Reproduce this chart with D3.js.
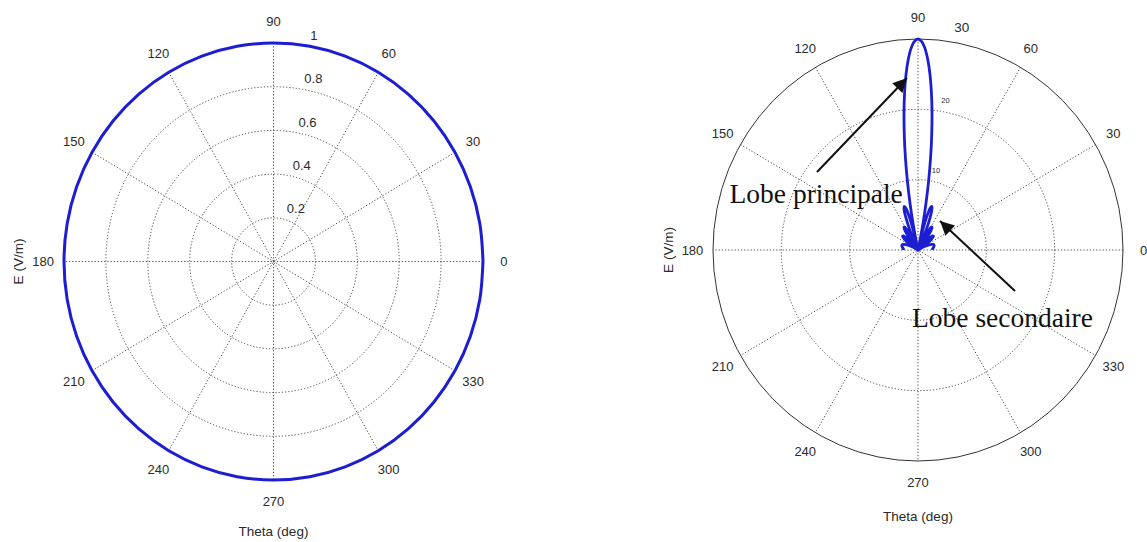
<!DOCTYPE html>
<html>
<head>
<meta charset="utf-8">
<script src="https://cdn.jsdelivr.net/npm/d3@7"></script>
<style>
  html, body { margin: 0; padding: 0; background: #ffffff; }
  svg { display: block; }
</style>
</head>
<body>
<svg id="fig" width="1147" height="542"></svg>
<script>
// Angular grid directions (degrees, counter-clockwise from east)
const angleTicks = [0, 30, 60, 90, 120, 150, 180, 210, 240, 270, 300, 330];

// Left panel: isotropic source, E (V/m) vs theta
const leftRings = [0.2, 0.4, 0.6, 0.8, 1];
const leftRingLabels = ["0.2", "0.4", "0.6", "0.8", "1"];
const leftTheta = [0, 10, 20, 30, 40, 50, 60, 70, 80, 90, 100, 110, 120, 130, 140, 150, 160, 170, 180,
                   190, 200, 210, 220, 230, 240, 250, 260, 270, 280, 290, 300, 310, 320, 330, 340, 350, 360];
const leftE = [1, 1, 1, 1, 1, 1, 1, 1, 1, 1, 1, 1, 1, 1, 1, 1, 1, 1, 1,
               1, 1, 1, 1, 1, 1, 1, 1, 1, 1, 1, 1, 1, 1, 1, 1, 1, 1];

// Right panel: array pattern with main lobe at 90 deg and side lobes
const rightRings = [10, 20, 30];
const rightRingLabels = ["10", "20", "30"];
const rightTheta = [
  0, 2, 4, 6, 8, 10, 12, 14, 16, 18, 20, 22, 24, 26, 28, 30, 30.7, 32, 34, 36, 38, 40,
  41, 42, 43, 44, 45, 46, 47, 48, 49, 49.8, 51, 52, 53, 54, 55, 56, 57, 58, 59, 60,
  61, 62, 63, 64, 64.5, 65, 66, 67, 68, 69, 70, 71, 72, 73, 74, 75, 76, 77, 77.6, 78,
  79, 80, 81, 82, 83, 84, 85, 86, 87, 88, 89, 90,
  91, 92, 93, 94, 95, 96, 97, 98, 99, 100, 101, 102, 102.4, 103, 104, 105, 106, 107,
  108, 109, 110, 111, 112, 113, 114, 115, 115.5, 116, 117, 118, 119, 120, 121, 122,
  123, 124, 125, 126, 127, 128, 129, 130.2, 131, 132, 133, 134, 135, 136, 137, 138,
  139, 140, 142, 144, 146, 148, 149.3, 150, 152, 154, 156, 158, 160, 162, 164, 166,
  168, 170, 172, 174, 176, 178, 180
];
const rightE = [
  2.10, 2.12, 2.14, 2.20, 2.25, 2.32, 2.38, 2.43, 2.45, 2.42, 2.31, 2.12, 1.82, 1.41, 0.89, 0.24, 0, 0.46, 1.19, 1.89, 2.53, 2.90,
  2.99, 2.99, 2.93, 2.76, 2.51, 2.16, 1.72, 1.19, 0.55, 0, 0.74, 1.41, 2.03, 2.62, 3.11, 3.49, 3.75, 3.85, 3.78, 3.50,
  3.03, 2.38, 1.52, 0.57, 0, 0.52, 1.68, 2.86, 3.97, 4.96, 5.76, 6.30, 6.52, 6.34, 5.78, 4.74, 3.26, 1.32, 0, 1.02,
  3.73, 6.71, 9.91, 13.21, 16.47, 19.62, 22.52, 25.07, 27.16, 28.72, 29.67, 30.00,
  29.67, 28.72, 27.16, 25.07, 22.52, 19.62, 16.47, 13.21, 9.91, 6.71, 3.73, 1.02, 0, 1.32, 3.26, 4.74, 5.78, 6.34,
  6.52, 6.30, 5.76, 4.96, 3.97, 2.86, 1.68, 0.52, 0, 0.57, 1.52, 2.38, 3.03, 3.50, 3.78, 3.85,
  3.75, 3.49, 3.11, 2.62, 2.03, 1.41, 0.74, 0, 0.55, 1.19, 1.72, 2.16, 2.51, 2.76, 2.93, 2.99,
  2.99, 2.90, 2.53, 1.89, 1.19, 0.46, 0, 0.24, 0.89, 1.41, 1.82, 2.12, 2.31, 2.42, 2.45, 2.43,
  2.38, 2.32, 2.25, 2.20, 2.14, 2.12, 2.10
];

const AXIS_FONT = "'Liberation Sans', Arial, Helvetica, sans-serif";
const NOTE_FONT = "'Liberation Serif', 'Times New Roman', serif";
const TRACE = "#1d1dd2";
const GRID = "#4a4a4a";
const TEXT = "#2a2a2a";

const svg = d3.select("#fig");

function polarPanel(cfg) {
  const g = svg.append("g");
  const sx = d3.scaleLinear().domain([0, cfg.rmax]).range([0, cfg.rx]);
  const sy = d3.scaleLinear().domain([0, cfg.rmax]).range([0, cfg.ry]);
  const rad = d => d * Math.PI / 180;
  const px = (t, r) => cfg.cx + sx(r) * Math.cos(rad(t));
  const py = (t, r) => cfg.cy - sy(r) * Math.sin(rad(t));

  // spokes every 30 degrees
  g.selectAll("line.spoke").data(angleTicks.filter(a => a < 180)).join("line")
    .attr("class", "spoke")
    .attr("x1", a => px(a, cfg.rmax)).attr("y1", a => py(a, cfg.rmax))
    .attr("x2", a => px(a + 180, cfg.rmax)).attr("y2", a => py(a + 180, cfg.rmax))
    .attr("stroke", GRID).attr("stroke-width", 1).attr("stroke-dasharray", "1.2,2");

  // range rings: dotted inside, solid outer frame
  g.selectAll("ellipse.ring").data(cfg.rings).join("ellipse")
    .attr("class", "ring")
    .attr("cx", cfg.cx).attr("cy", cfg.cy)
    .attr("rx", v => sx(v)).attr("ry", v => sy(v))
    .attr("fill", "none")
    .attr("stroke", v => v === cfg.rmax ? "#333" : GRID)
    .attr("stroke-width", 1)
    .attr("stroke-dasharray", v => v === cfg.rmax ? null : "1.2,2");

  // angle labels
  g.selectAll("text.ang").data(angleTicks).join("text")
    .attr("class", "ang")
    .attr("x", a => px(a, cfg.rmax * 1.1))
    .attr("y", a => py(a, cfg.rmax * 1.1))
    .attr("text-anchor", "middle").attr("dominant-baseline", "central")
    .attr("font-family", AXIS_FONT).attr("font-size", 13).attr("fill", TEXT)
    .text(a => a);

  // ring value labels near 82 degrees
  g.selectAll("text.rlab").data(cfg.rings).join("text")
    .attr("class", "rlab")
    .attr("x", (v, i) => px(82, v) + cfg.ringLabelSize[i] * 0.58)
    .attr("y", (v, i) => py(82, v) - cfg.ringLabelLift[i])
    .attr("font-family", AXIS_FONT)
    .attr("font-size", (v, i) => cfg.ringLabelSize[i])
    .attr("fill", TEXT)
    .text((v, i) => cfg.ringLabels[i]);

  // data trace
  const line = d3.line()
    .x(d => px(d[0], d[1]))
    .y(d => py(d[0], d[1]))
    .curve(d3.curveCatmullRom.alpha(0.5));
  g.append("path")
    .datum(cfg.theta.map((t, i) => [t, cfg.values[i]]))
    .attr("d", line)
    .attr("fill", "none").attr("stroke", TRACE)
    .attr("stroke-width", cfg.traceWidth)
    .attr("stroke-linejoin", "round");

  // axis titles
  g.append("text")
    .attr("x", cfg.cx).attr("y", cfg.xTitleY)
    .attr("text-anchor", "middle")
    .attr("font-family", AXIS_FONT).attr("font-size", 13.5).attr("fill", TEXT)
    .text("Theta (deg)");
  g.append("text")
    .attr("transform", `translate(${cfg.yTitleX},${cfg.cy}) rotate(-90)`)
    .attr("text-anchor", "middle").attr("dominant-baseline", "central")
    .attr("font-family", AXIS_FONT).attr("font-size", 13.5).attr("fill", TEXT)
    .text("E (V/m)");
  return g;
}

polarPanel({
  cx: 273.5, cy: 261.5, rx: 209.5, ry: 218.5, rmax: 1,
  rings: leftRings, ringLabels: leftRingLabels,
  ringLabelSize: [13, 13, 13, 13, 13], ringLabelLift: [5, 5, 5, 5, 5],
  theta: leftTheta, values: leftE, traceWidth: 3,
  xTitleY: 536, yTitleX: 18
});

polarPanel({
  cx: 918, cy: 250, rx: 205, ry: 211, rmax: 30,
  rings: rightRings, ringLabels: rightRingLabels,
  ringLabelSize: [7.5, 7.5, 13.5], ringLabelLift: [7.5, 7.5, 9.5],
  theta: rightTheta, values: rightE, traceWidth: 2.8,
  xTitleY: 521, yTitleX: 668
});

// annotations on the right panel
const defs = svg.append("defs");
defs.append("marker")
  .attr("id", "head").attr("viewBox", "0 0 10 10")
  .attr("refX", 10).attr("refY", 5)
  .attr("markerWidth", 8).attr("markerHeight", 7)
  .attr("markerUnits", "strokeWidth")
  .attr("orient", "auto")
  .append("path").attr("d", "M0,0 L10,5 L0,10 Z").attr("fill", "#111");

const notes = [
  { text: "Lobe principale", x: 729.5, y: 203, from: [817, 172], to: [907, 78] },
  { text: "Lobe secondaire", x: 912, y: 326.5, from: [1015, 291], to: [940, 221] }
];
svg.selectAll("line.arrow").data(notes).join("line")
  .attr("class", "arrow")
  .attr("x1", d => d.from[0]).attr("y1", d => d.from[1])
  .attr("x2", d => d.to[0]).attr("y2", d => d.to[1])
  .attr("stroke", "#111").attr("stroke-width", 2)
  .attr("marker-end", "url(#head)");
svg.selectAll("text.note").data(notes).join("text")
  .attr("class", "note")
  .attr("x", d => d.x).attr("y", d => d.y)
  .attr("font-family", NOTE_FONT).attr("font-size", 27.5).attr("fill", "#111")
  .text(d => d.text);
</script>
</body>
</html>
